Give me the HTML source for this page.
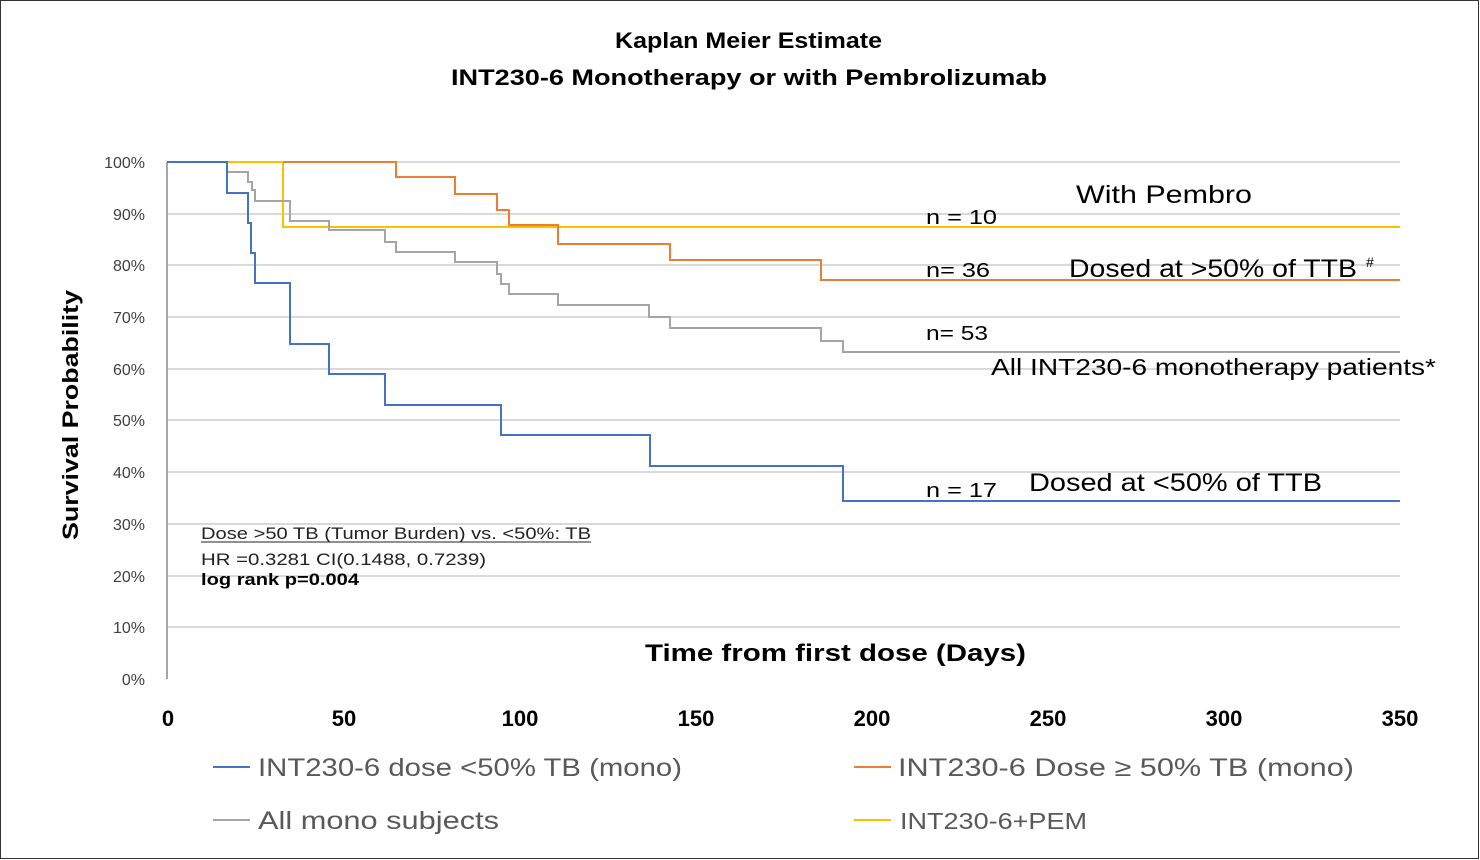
<!DOCTYPE html>
<html><head><meta charset="utf-8"><style>
html,body{margin:0;padding:0;background:#fff;}
svg{display:block;font-family:"Liberation Sans",sans-serif;}
</style></head><body>
<svg width="1480" height="860" viewBox="0 0 1480 860" xmlns="http://www.w3.org/2000/svg">
<rect x="0.5" y="0.5" width="1478" height="858" fill="#fff" stroke="#333" stroke-width="1"/>
<g font-weight="bold" font-size="22" fill="#000">
<text x="615" y="48" textLength="267" lengthAdjust="spacingAndGlyphs">Kaplan Meier Estimate</text>
<text x="451" y="85" textLength="596" lengthAdjust="spacingAndGlyphs">INT230-6 Monotherapy or with Pembrolizumab</text>
</g>
<g stroke="#d9d9d9" stroke-width="2">
<line x1="167" y1="162" x2="1400" y2="162"/><line x1="167" y1="214" x2="1400" y2="214"/>
<line x1="167" y1="265" x2="1400" y2="265"/><line x1="167" y1="317" x2="1400" y2="317"/>
<line x1="167" y1="369" x2="1400" y2="369"/><line x1="167" y1="420" x2="1400" y2="420"/>
<line x1="167" y1="472" x2="1400" y2="472"/><line x1="167" y1="524" x2="1400" y2="524"/>
<line x1="167" y1="576" x2="1400" y2="576"/><line x1="167" y1="627" x2="1400" y2="627"/>
</g>
<line x1="167" y1="162" x2="167" y2="679" stroke="#a6a6a6" stroke-width="2"/>
<g font-size="16" text-anchor="end" fill="#404040">
<text x="145" y="168">100%</text><text x="145" y="220">90%</text><text x="145" y="271">80%</text>
<text x="145" y="323">70%</text><text x="145" y="375">60%</text><text x="145" y="426">50%</text>
<text x="145" y="478">40%</text><text x="145" y="530">30%</text><text x="145" y="582">20%</text>
<text x="145" y="633">10%</text><text x="145" y="685">0%</text>
</g>
<text transform="translate(78,540) rotate(-90)" font-size="22" font-weight="bold" textLength="250" lengthAdjust="spacingAndGlyphs">Survival Probability</text>
<g font-size="22" font-weight="bold" text-anchor="middle">
<text x="168" y="726">0</text><text x="344" y="726">50</text><text x="520" y="726">100</text>
<text x="696" y="726">150</text><text x="872" y="726">200</text><text x="1048" y="726">250</text>
<text x="1224" y="726">300</text><text x="1400" y="726">350</text>
</g>
<text x="645" y="661" font-size="24" font-weight="bold" textLength="381" lengthAdjust="spacingAndGlyphs">Time from first dose (Days)</text>
<g fill="none" stroke-width="2">
<polyline stroke="#ffc000" points="167,162 283,162 283,227 1400,227"/>
<polyline stroke="#a5a5a5" points="227,162 227,172 248,172 248,182 252,182 252,190 255,190 255,201 290,201 290,221 329,221 329,230 385,230 385,242 396,242 396,252 455,252 455,262 497,262 497,274 501,274 501,284 509,284 509,294 558,294 558,305 649,305 649,317 670,317 670,328 821,328 821,341 843,341 843,352 1400,352"/>
<polyline stroke="#ed7d31" points="283,162 396,162 396,177 455,177 455,194 497,194 497,210 509,210 509,225 558,225 558,244 670,244 670,260 821,260 821,280 1400,280"/>
<polyline stroke="#4472c4" points="167,162 227,162 227,193 248,193 248,223 251,223 251,253 255,253 255,283 290,283 290,344 329,344 329,374 385,374 385,405 501,405 501,435 650,435 650,466 843,466 843,501 1400,501"/>
</g>
<g font-size="20" fill="#000" lengthAdjust="spacingAndGlyphs">
<text x="926" y="224" textLength="71" lengthAdjust="spacingAndGlyphs">n = 10</text>
<text x="926" y="277" textLength="64" lengthAdjust="spacingAndGlyphs">n= 36</text>
<text x="926" y="340" textLength="62" lengthAdjust="spacingAndGlyphs">n= 53</text>
<text x="926" y="497" textLength="71" lengthAdjust="spacingAndGlyphs">n = 17</text>
</g>
<g font-size="25" fill="#000">
<text x="1076" y="203" textLength="176" lengthAdjust="spacingAndGlyphs">With Pembro</text>
<text x="1069" y="277" textLength="288" lengthAdjust="spacingAndGlyphs">Dosed at &gt;50% of TTB</text>
<text x="1366" y="267" font-size="14">#</text>
<text x="991" y="375" font-size="23" textLength="445" lengthAdjust="spacingAndGlyphs">All INT230-6 monotherapy patients*</text>
<text x="1029" y="491" textLength="293" lengthAdjust="spacingAndGlyphs">Dosed at &lt;50% of TTB</text>
</g>
<g font-size="17" fill="#222">
<text x="201" y="539" textLength="390" lengthAdjust="spacingAndGlyphs">Dose &gt;50 TB (Tumor Burden) vs. &lt;50%: TB</text>
<line x1="201" y1="542" x2="591" y2="542" stroke="#222" stroke-width="1"/>
<text x="201" y="565" textLength="285" lengthAdjust="spacingAndGlyphs">HR =0.3281 CI(0.1488, 0.7239)</text>
<text x="201" y="585" font-weight="bold" fill="#000" textLength="158" lengthAdjust="spacingAndGlyphs">log rank p=0.004</text>
</g>
<g font-size="25" fill="#595959">
<line x1="213" y1="767" x2="250" y2="767" stroke="#4472c4" stroke-width="2"/>
<text x="258" y="776" textLength="424" lengthAdjust="spacingAndGlyphs">INT230-6 dose &lt;50% TB (mono)</text>
<line x1="854" y1="767" x2="891" y2="767" stroke="#ed7d31" stroke-width="2"/>
<text x="898" y="776" textLength="456" lengthAdjust="spacingAndGlyphs">INT230-6 Dose ≥ 50% TB (mono)</text>
<line x1="213" y1="820" x2="250" y2="820" stroke="#a5a5a5" stroke-width="2"/>
<text x="258" y="829" textLength="241" lengthAdjust="spacingAndGlyphs">All mono subjects</text>
<line x1="854" y1="820" x2="891" y2="820" stroke="#ffc000" stroke-width="2"/>
<text x="900" y="829" font-size="23" textLength="187" lengthAdjust="spacingAndGlyphs">INT230-6+PEM</text>
</g>
</svg>
</body></html>
